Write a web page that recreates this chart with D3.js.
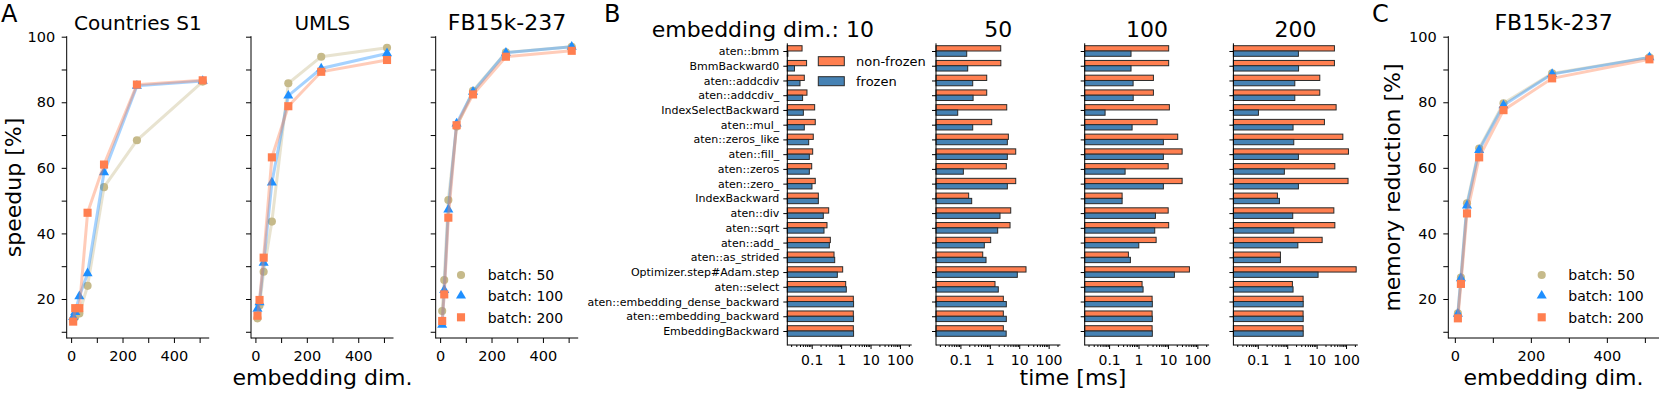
<!DOCTYPE html>
<html><head><meta charset="utf-8">
<script src="https://cdn.jsdelivr.net/npm/d3@7"></script>
<style>body{margin:0;background:#fff} text{font-family:"DejaVu Sans",sans-serif}</style>
</head><body><svg id="c" width="1661" height="393"></svg>
<script>
// ---------- DATA ----------
const dims = [8, 16, 32, 64, 128, 256, 512];
const batchLabels = ["batch: 50", "batch: 100", "batch: 200"];
const xTicksA = [0, 200, 400];
const xMinorA = [100, 300, 500];
const yTicksA = [20, 40, 60, 80, 100];
const yMinorA = [10, 30, 50, 70, 90];

const countries50  = [13.5, 14.5, 15.6, 24.0, 54.1, 68.4, 86.3];
const countries100 = [14.5, 16.0, 20.8, 27.8, 58.6, 85.0, 86.5];
const countries200 = [13.1, 17.2, 17.2, 46.3, 61.0, 85.4, 86.7];

const umls50  = [14.1, 18.0, 28.3, 43.6, 85.8, 93.9, 96.6];
const umls100 = [17.0, 19.0, 31.0, 55.5, 82.0, 90.3, 94.9];
const umls200 = [14.9, 19.7, 32.6, 63.2, 78.8, 89.3, 92.9];

const fb50  = [16.3, 25.8, 50.2, 72.6, 83.5, 95.2, 96.9];
const fb100 = [12.1, 22.7, 47.3, 73.5, 83.2, 95.1, 96.9];
const fb200 = [13.3, 21.4, 44.8, 73.0, 82.4, 93.9, 95.7];

const mem50  = [15.6, 26.5, 49.2, 65.9, 79.7, 88.8, 93.7];
const mem100 = [15.5, 26.3, 48.5, 65.4, 79.1, 88.6, 93.7];
const mem200 = [14.1, 24.6, 46.1, 63.2, 77.6, 87.3, 93.1];

const ops = ["aten::bmm", "BmmBackward0", "aten::addcdiv", "aten::addcdiv_", "IndexSelectBackward",
  "aten::mul_", "aten::zeros_like", "aten::fill_", "aten::zeros", "aten::zero_", "IndexBackward",
  "aten::div", "aten::sqrt", "aten::add_", "aten::as_strided", "Optimizer.step#Adam.step",
  "aten::select", "aten::embedding_dense_backward", "aten::embedding_backward", "EmbeddingBackward"];
const timeTitles = ["embedding dim.: 10", "50", "100", "200"];
const timeTicks = [0.1, 1, 10, 100];

const nonFrozen10 = [0.047, 0.067, 0.056, 0.069, 0.126, 0.132, 0.113, 0.108, 0.100, 0.132, 0.168, 0.378, 0.331, 0.43, 0.574, 1.13, 1.43, 2.6, 2.6, 2.6];
const frozen10    = [0.0155, 0.026, 0.040, 0.049, 0.052, 0.056, 0.079, 0.083, 0.083, 0.102, 0.168, 0.248, 0.262, 0.397, 0.605, 0.743, 1.5, 2.65, 2.65, 2.65];
const nonFrozen50 = [2.35, 2.37, 0.785, 0.785, 3.76, 1.16, 4.27, 7.6, 3.64, 7.6, 0.191, 5.14, 4.87, 1.07, 0.574, 17, 1.5, 2.88, 2.88, 2.88];
const frozen50    = [0.164, 0.177, 0.262, 0.27, 0.081, 0.262, 3.94, 3.94, 0.126, 3.94, 0.242, 2.22, 1.85, 0.65, 0.743, 8.6, 1.94, 3.64, 3.64, 3.6];
const nonFrozen100 = [10.6, 10.6, 3.21, 3.21, 11.2, 4.3, 21.5, 30.4, 10.2, 30.4, 0.277, 10.2, 10.6, 3.97, 0.453, 53.8, 1.32, 2.9, 2.9, 2.9];
const frozen100    = [0.556, 0.556, 0.655, 0.66, 0.073, 0.605, 7.0, 7.0, 0.35, 7.0, 0.277, 3.76, 3.56, 1.02, 0.53, 16.6, 1.43, 2.95, 2.95, 2.95];
const nonFrozen200 = [40.3, 40.3, 12.8, 12.8, 46, 18.4, 77.8, 120.8, 41.6, 117, 0.464, 38.5, 41.6, 15.4, 0.588, 221, 1.5, 3.47, 3.47, 3.47];
const frozen200    = [2.4, 2.43, 1.81, 1.81, 0.105, 1.58, 1.67, 2.4, 0.8, 2.4, 0.543, 1.54, 1.67, 2.3, 0.588, 11.2, 1.58, 3.5, 3.5, 3.5];

// ---------- STYLE ----------
const FONT = '"DejaVu Sans", sans-serif';
const cKhaki = "#c6ba8a", cBlue = "#1e8fff", cCoral = "#ff7f50", cSteel = "#4682b4";
const svg = d3.select("#c");

function cleanAxis(g, fs) {
  g.attr("font-family", FONT).attr("font-size", fs);
  g.selectAll("path.domain").remove();
  g.selectAll(".tick line").attr("stroke", "#000").attr("stroke-width", 1);
  g.selectAll(".tick text").attr("fill", "#000");
}

function symbolFor(k) {
  return [d3.symbol().type(d3.symbolCircle).size(52),
          d3.symbol().type(d3.symbolTriangle).size(44),
          d3.symbol().type(d3.symbolSquare).size(66)][k];
}
const colors = [cKhaki, cBlue, cCoral];

// ---------- LINE PANELS ----------
function linePanel(left, width, title, titleFs, series, showY, legend) {
  const g = svg.append("g").attr("transform", `translate(${left},0)`);
  const x = d3.scaleLinear().domain([-17.2, 537.2]).range([0, width]);
  const y = d3.scaleLinear().domain([8.1, 100]).range([338, 36.7]);

  const xa = g.append("g").attr("transform", "translate(0,338)")
    .call(d3.axisBottom(x).tickValues(xTicksA).tickSize(5).tickPadding(7.5).tickFormat(d3.format("d")));
  cleanAxis(xa, 14.5);
  const xm = g.append("g").attr("transform", "translate(0,338)")
    .call(d3.axisBottom(x).tickValues(xMinorA).tickSize(5).tickFormat(""));
  cleanAxis(xm, 14.5);
  const ya = g.append("g")
    .call(d3.axisLeft(y).tickValues(yTicksA).tickSize(5).tickPadding(6.5).tickFormat(showY ? d3.format("d") : ""));
  cleanAxis(ya, 14.5);
  const ym = g.append("g").call(d3.axisLeft(y).tickValues(yMinorA).tickSize(5).tickFormat(""));
  cleanAxis(ym, 14.5);

  g.append("line").attr("x1", 0).attr("x2", 0).attr("y1", 36.2).attr("y2", 338.5).attr("stroke", "#000");
  g.append("line").attr("x1", 0).attr("x2", width).attr("y1", 338).attr("y2", 338).attr("stroke", "#000");

  g.append("text").attr("x", width / 2).attr("y", 29.5).attr("text-anchor", "middle")
    .attr("font-size", titleFs).text(title);

  const line = d3.line().x((d, i) => x(dims[i])).y(d => y(d));
  series.forEach((vals, k) => {
    g.append("path").datum(vals).attr("d", line).attr("fill", "none")
      .attr("stroke", colors[k]).attr("stroke-width", 3).attr("stroke-opacity", 0.4);
    g.selectAll(null).data(vals).enter().append("path")
      .attr("d", symbolFor(k))
      .attr("transform", (d, i) => `translate(${x(dims[i])},${y(d)})`)
      .attr("fill", colors[k]);
  });

  if (legend) {
    const ly = [275, 295.7, 317.3];
    batchLabels.forEach((lab, k) => {
      g.append("path").attr("d", symbolFor(k))
        .attr("transform", `translate(${legend.mx - left},${ly[k]})`).attr("fill", colors[k]);
      g.append("text").attr("x", legend.tx - left).attr("y", ly[k] + 5.2)
        .attr("font-size", 14).text(lab);
    });
  }
  return g;
}

linePanel(66.7, 142.5, "Countries S1", 20, [countries50, countries100, countries200], true, null);
linePanel(251, 142.5, "UMLS", 20, [umls50, umls100, umls200], false, null);
linePanel(435.7, 142.5, "FB15k-237", 22, [fb50, fb100, fb200], false, {mx: 461, tx: 487.7});
linePanel(1448.3, 210.7, "FB15k-237", 22, [mem50, mem100, mem200], true, {mx: 1541.7, tx: 1568.3});

// labels A / C
svg.append("text").attr("transform", "translate(21,187.5) rotate(-90)").attr("text-anchor", "middle")
  .attr("font-size", 22).text("speedup [%]");
svg.append("text").attr("x", 322.5).attr("y", 385).attr("text-anchor", "middle")
  .attr("font-size", 22).text("embedding dim.");
svg.append("text").attr("transform", "translate(1400,187.5) rotate(-90)").attr("text-anchor", "middle")
  .attr("font-size", 22).text("memory reduction [%]");
svg.append("text").attr("x", 1553.5).attr("y", 385).attr("text-anchor", "middle")
  .attr("font-size", 22).text("embedding dim.");

// ---------- BAR PANELS ----------
const barSets = [[nonFrozen10, frozen10], [nonFrozen50, frozen50], [nonFrozen100, frozen100], [nonFrozen200, frozen200]];
const bLefts = [787.3, 936, 1084.7, 1233.4];
const bW = 124.4;
const xB = d3.scaleLog().domain([0.0148, 251]).range([0, bW]);
const yB = d3.scaleLinear().domain([0, ops.length - 1]).range([51, 331]);
const barH = 5.3;
const minorB = [];
[0.01, 0.1, 1, 10, 100].forEach(p => { for (let m = 2; m <= 9; m++) { const v = p * m; if (v > 0.0148 && v < 251) minorB.push(v); } });

barSets.forEach(([nf, fr], p) => {
  const g = svg.append("g").attr("transform", `translate(${bLefts[p]},0)`);
  g.selectAll(null).data(nf).enter().append("rect")
    .attr("x", 0).attr("y", (d, i) => yB(i) - barH).attr("width", d => xB(d)).attr("height", barH)
    .attr("fill", cCoral).attr("stroke", "#2a2a2a").attr("stroke-width", 1);
  g.selectAll(null).data(fr).enter().append("rect")
    .attr("x", 0).attr("y", (d, i) => yB(i)).attr("width", d => xB(d)).attr("height", barH)
    .attr("fill", cSteel).attr("stroke", "#2a2a2a").attr("stroke-width", 1);

  const xa = g.append("g").attr("transform", "translate(0,345)")
    .call(d3.axisBottom(xB).tickValues(timeTicks).tickSize(4).tickPadding(6).tickFormat(d => String(d)));
  cleanAxis(xa, 14);
  const xm = g.append("g").attr("transform", "translate(0,345)")
    .call(d3.axisBottom(xB).tickValues(minorB).tickSize(2).tickFormat(""));
  cleanAxis(xm, 14);
  const ya = g.append("g")
    .call(d3.axisLeft(yB).tickValues(d3.range(ops.length)).tickSize(4).tickPadding(4)
      .tickFormat(p === 0 ? (i => ops[i]) : ""));
  cleanAxis(ya, 11);

  g.append("line").attr("x1", 0).attr("x2", 0).attr("y1", 43.3).attr("y2", 345.5).attr("stroke", "#000");
  g.append("line").attr("x1", 0).attr("x2", bW).attr("y1", 345).attr("y2", 345).attr("stroke", "#000");

  if (p === 0) {
    g.append("text").attr("x", 874 - bLefts[0]).attr("y", 36.8).attr("text-anchor", "end")
      .attr("font-size", 22).text(timeTitles[0]);
  } else {
    g.append("text").attr("x", bW / 2).attr("y", 36.8).attr("text-anchor", "middle")
      .attr("font-size", 22).text(timeTitles[p]);
  }
});

// bar legend
[["non-frozen", cCoral, 56.7], ["frozen", cSteel, 76.7]].forEach(([lab, col, yy]) => {
  svg.append("rect").attr("x", 818.3).attr("y", yy).attr("width", 26).attr("height", 9)
    .attr("fill", col).attr("stroke", "#2a2a2a").attr("stroke-width", 1);
  svg.append("text").attr("x", 856).attr("y", yy + 9.2).attr("font-size", 13).text(lab);
});

svg.append("text").attr("x", 1073).attr("y", 385).attr("text-anchor", "middle")
  .attr("font-size", 22).text("time [ms]");

// panel letters
svg.append("text").attr("x", 1).attr("y", 22).attr("font-size", 24).text("A");
svg.append("text").attr("x", 604).attr("y", 22).attr("font-size", 24).text("B");
svg.append("text").attr("x", 1372).attr("y", 22).attr("font-size", 24).text("C");
</script></body></html>
